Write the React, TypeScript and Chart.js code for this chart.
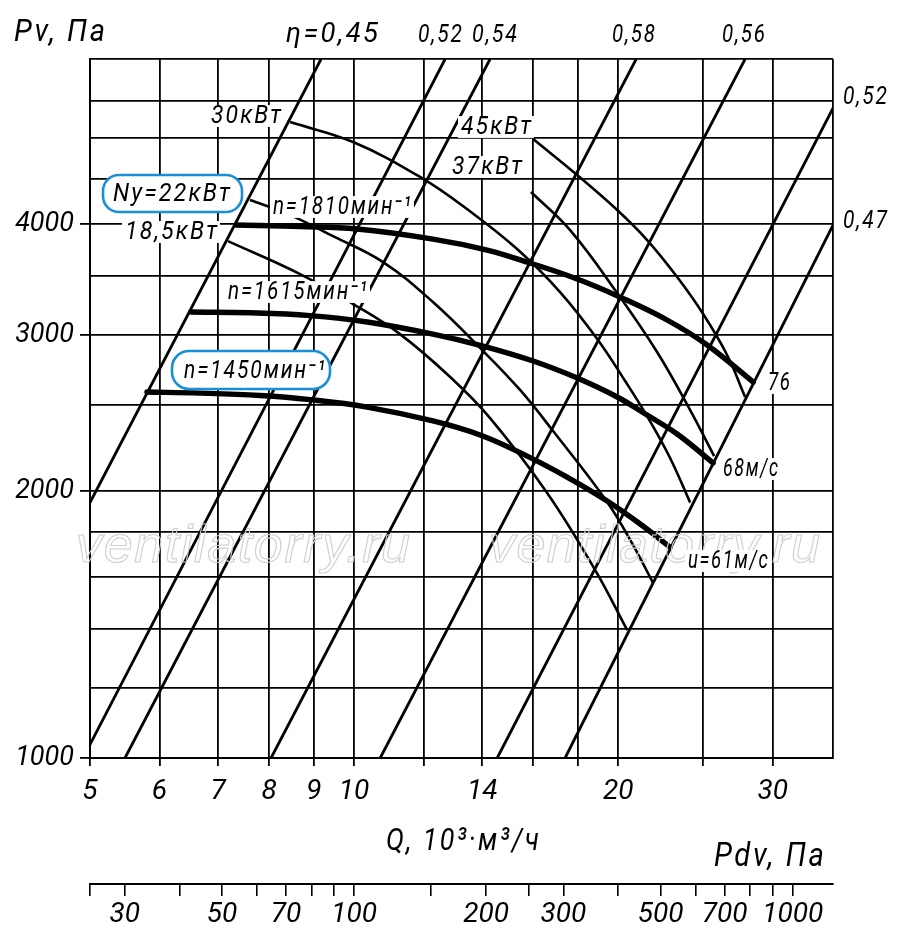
import React, { useEffect, useRef } from "react";
import { Chart, registerables } from "chart.js";

Chart.register(...registerables);

// ---------- axes ----------
const qMin = 5;
const qMax = 35.15;
const pMin = 1000;
const pMax = 6140;
const pdvMin = 25;
const pdvMax = 1236;

const qGridValues = [5, 6, 7, 8, 9, 10, 12, 14, 16, 18, 20, 25, 30, 35.15];
const qTickLabels = [5, 6, 7, 8, 9, 10, 14, 20, 30];
const pGridValues = [1000, 1200, 1400, 1600, 1800, 2000, 2500, 3000, 3500, 4000, 4500, 5000, 5500, 6140];
const pTickLabels = [1000, 2000, 3000, 4000];
const pdvTickValues = [25, 30, 40, 50, 60, 70, 80, 90, 100, 150, 200, 250, 300, 400, 500, 600, 700, 800, 900, 1000];
const pdvTickLabels = [30, 50, 70, 100, 200, 300, 500, 700, 1000];

// ---------- efficiency lines (η) ----------
const etaNames = ["0,45", "0,52", "0,54", "0,58", "0,56", "0,52", "0,47"];
const etaQStart = [5, 4.909, 5.481, 8.042, 10.71, 14.56, 17.4];
const etaPStart = [1941, 1000, 1000, 1000, 1000, 1000, 1000];
const etaQEnd = [9.17, 12.7, 14.29, 20.97, 27.91, 35.15, 35.15];
const etaPEnd = [6140, 6140, 6140, 6140, 6140, 5405, 3990];

// ---------- fan curves (thick) ----------
const n1810Q = [7.336, 8.679, 10.08, 12.3, 14.18, 15.87, 17.96, 20.1, 22.74, 25.26, 28.51];
const n1810P = [3990, 3974, 3949, 3847, 3739, 3615, 3468, 3309, 3118, 2922, 2654];
const n1615Q = [6.518, 7.611, 8.909, 10.35, 12.3, 14.03, 16.0, 17.96, 19.95, 21.58, 23.35, 25.66];
const n1615P = [3183, 3177, 3154, 3102, 3006, 2914, 2803, 2682, 2553, 2436, 2319, 2151];
const n1450Q = [5.807, 6.674, 7.813, 8.909, 10.35, 12.3, 13.92, 15.75, 17.49, 19.43, 21.19, 22.92];
const n1450P = [2586, 2579, 2563, 2536, 2487, 2399, 2313, 2190, 2074, 1949, 1836, 1729];

// ---------- power lines (thin) ----------
const kw185Q = [7.183, 8.679, 9.974, 11.28, 12.87, 14.29, 16.6, 18.83, 20.48];
const kw185P = [3827, 3513, 3250, 3006, 2689, 2417, 1990, 1629, 1394];
const kw22Q = [7.611, 8.409, 9.463, 10.79, 12.3, 14.03, 15.46, 16.86, 19.43, 20.8, 21.92];
const kw22P = [4257, 4105, 3876, 3624, 3267, 2877, 2600, 2337, 1944, 1738, 1575];
const kw30Q = [8.454, 9.974, 11.95, 13.45, 15.34, 17.17, 18.93, 20.37, 21.64, 22.92, 24.16];
const kw30P = [5212, 4949, 4507, 4159, 3749, 3353, 2968, 2661, 2417, 2179, 1941];
const kw37Q = [15.91, 17.63, 19.95, 22.15, 24.16, 25.73];
const kw37P = [4347, 3938, 3344, 2869, 2468, 2190];
const kw45Q = [16.0, 17.96, 19.95, 21.58, 23.35, 25.0, 26.62, 27.91];
const kw45P = [4987, 4542, 4148, 3837, 3486, 3167, 2847, 2553];

const NARROW = "'Liberation Sans Narrow', 'Roboto', sans-serif";
const ITAL = "'Roboto', 'Liberation Sans', sans-serif";
const BLUE = "#1a8fd8";

const zip = (qs: number[], ps: number[]) => qs.map((q, i) => ({ x: q, y: ps[i] }));

type Lbl = { t: string; x: number; y: number; w: number; s: number; bg?: boolean; fam?: string; box?: number[] };

const labels: Lbl[] = [
  { t: "Pv, Па", x: 14, y: 33, w: 91, s: 32 },
  { t: "η=0,45", x: 286, y: 35, w: 92, s: 28 },
  { t: "0,52", x: 418, y: 35, w: 44, s: 26 },
  { t: "0,54", x: 472, y: 35, w: 45, s: 26 },
  { t: "0,58", x: 612, y: 35, w: 43, s: 26 },
  { t: "0,56", x: 722, y: 35, w: 43, s: 26 },
  { t: "0,52", x: 843, y: 97, w: 44, s: 26 },
  { t: "0,47", x: 843, y: 221, w: 44, s: 26 },
  { t: "30кВт", x: 211, y: 116, w: 70, s: 26, bg: true },
  { t: "45кВт", x: 461, y: 127, w: 70, s: 26, bg: true },
  { t: "37кВт", x: 452, y: 167, w: 70, s: 26, bg: true },
  { t: "Ny=22кВт", x: 113, y: 194, w: 117, s: 26, box: [103, 175, 139, 37, 16] },
  { t: "n=1810мин⁻¹", x: 273, y: 207, w: 138, s: 26, bg: true },
  { t: "18,5кВт", x: 125, y: 232, w: 92, s: 26, bg: true },
  { t: "n=1615мин⁻¹", x: 228, y: 292, w: 139, s: 26, bg: true },
  { t: "n=1450мин⁻¹", x: 184, y: 371, w: 141, s: 26, box: [172, 351, 158, 38, 17] },
  { t: "76", x: 768, y: 383, w: 22, s: 26, bg: true },
  { t: "68м/с", x: 723, y: 469, w: 55, s: 26, bg: true },
  { t: "u=61м/с", x: 688, y: 561, w: 80, s: 26, bg: true },
  { t: "Q, 10³·м³/ч", x: 386, y: 842, w: 153, s: 32, fam: NARROW },
  { t: "Pdv, Па", x: 714, y: 858, w: 110, s: 33, fam: NARROW },
];

function roundBox(ctx: CanvasRenderingContext2D, bx: number, by: number, bw: number, bh: number, r: number) {
  ctx.beginPath();
  ctx.moveTo(bx + r, by);
  ctx.lineTo(bx + bw - r, by);
  ctx.arc(bx + bw - r, by + r, r, -Math.PI / 2, 0);
  ctx.lineTo(bx + bw, by + bh - r);
  ctx.arc(bx + bw - r, by + bh - r, r, 0, Math.PI / 2);
  ctx.lineTo(bx + r, by + bh);
  ctx.arc(bx + r, by + bh - r, r, Math.PI / 2, Math.PI);
  ctx.lineTo(bx, by + r);
  ctx.arc(bx + r, by + r, r, Math.PI, Math.PI * 1.5);
  ctx.closePath();
}

function fitted(ctx: CanvasRenderingContext2D, l: Lbl) {
  const fam = l.fam || ITAL;
  ctx.save();
  if (l.box) {
    const [bx, by, bw, bh, r] = l.box;
    roundBox(ctx, bx, by, bw, bh, r);
    ctx.fillStyle = "#fff";
    ctx.fill();
    ctx.lineWidth = 2.6;
    ctx.strokeStyle = BLUE;
    ctx.stroke();
  } else if (l.bg) {
    ctx.fillStyle = "#fff";
    ctx.fillRect(l.x - 3, l.y - l.s * 0.42, l.w + 6, l.s * 0.84);
  }
  ctx.font = `italic ${l.s}px ${fam}`;
  (ctx as any).letterSpacing = "0px";
  const n = Array.from(l.t).length;
  const ls = l.s * 0.09;
  const natural = ctx.measureText(l.t).width + (n - 1) * ls;
  (ctx as any).letterSpacing = `${ls}px`;
  const sx = l.w / natural;
  ctx.textBaseline = "middle";
  ctx.textAlign = "left";
  ctx.translate(l.x, l.y);
  ctx.scale(sx, 1);
  ctx.fillStyle = "#000";
  ctx.fillText(l.t, 0, 0);
  ctx.restore();
}

function watermark(ctx: CanvasRenderingContext2D, x: number, y: number, w: number) {
  const t = "ventilatorry.ru";
  ctx.save();
  ctx.font = `italic 52px 'Liberation Sans', Arial, sans-serif`;
  (ctx as any).letterSpacing = "0px";
  const natural = ctx.measureText(t).width;
  const n = Array.from(t).length;
  (ctx as any).letterSpacing = `${(w - natural) / (n - 1)}px`;
  ctx.textBaseline = "alphabetic";
  ctx.strokeStyle = "#cfcfcf";
  ctx.lineWidth = 1.1;
  ctx.strokeText(t, x, y);
  ctx.restore();
}

const textPlugin = {
  id: "fanText",
  afterDatasetsDraw(chart: any) {
    const ctx = chart.ctx as CanvasRenderingContext2D;
    watermark(ctx, 76, 562, 334);
    watermark(ctx, 489, 562, 331);
  },
  afterDraw(chart: any) {
    const ctx = chart.ctx as CanvasRenderingContext2D;
    labels.forEach((l) => fitted(ctx, l));
  },
};

export default function App() {
  const ref = useRef<HTMLCanvasElement | null>(null);

  useEffect(() => {
    if (!ref.current) return;
    const thin = { borderColor: "#000", borderWidth: 2.6, pointRadius: 0, fill: false };
    const datasets: any[] = [];
    etaNames.forEach((name, i) => {
      datasets.push({
        label: "η=" + name,
        data: [
          { x: etaQStart[i], y: etaPStart[i] },
          { x: etaQEnd[i], y: etaPEnd[i] },
        ],
        ...thin,
        borderWidth: 2.8,
        tension: 0,
      });
    });
    const power: [string, number[], number[]][] = [
      ["18,5кВт", kw185Q, kw185P],
      ["22кВт", kw22Q, kw22P],
      ["30кВт", kw30Q, kw30P],
      ["37кВт", kw37Q, kw37P],
      ["45кВт", kw45Q, kw45P],
    ];
    power.forEach(([name, qs, ps]) => {
      datasets.push({ label: name, data: zip(qs, ps), ...thin, tension: 0.4 });
    });
    const speeds: [string, number[], number[]][] = [
      ["n=1810", n1810Q, n1810P],
      ["n=1615", n1615Q, n1615P],
      ["n=1450", n1450Q, n1450P],
    ];
    speeds.forEach(([name, qs, ps]) => {
      datasets.push({
        label: name,
        data: zip(qs, ps),
        ...thin,
        borderWidth: 5.4,
        borderCapStyle: "round",
        tension: 0.4,
      });
    });

    const chart = new Chart(ref.current, {
      type: "line",
      data: { datasets },
      plugins: [textPlugin],
      options: {
        animation: false,
        responsive: false,
        events: [],
        devicePixelRatio: 1,
        layout: { padding: { left: 0, right: 67, top: 59, bottom: 0 } },
        plugins: {
          legend: { display: false },
          tooltip: { enabled: false },
          title: { display: false },
        },
        scales: {
          x: {
            type: "logarithmic",
            position: "bottom",
            min: qMin,
            max: qMax,
            weight: 0,
            afterBuildTicks: (s: any) => {
              s.ticks = qGridValues.map((v) => ({ value: v }));
            },
            afterFit: (s: any) => {
              s.height = 126;
            },
            ticks: {
              autoSkip: false,
              maxRotation: 0,
              minRotation: 0,
              padding: 9,
              color: "#000",
              font: { family: NARROW, size: 28, style: "italic" },
              callback: (v: any) => (qTickLabels.includes(Number(v)) ? String(v) : ""),
            },
            grid: {
              color: "#000",
              lineWidth: 1.8,
              tickLength: 8,
              tickWidth: 1.8,
              tickColor: (c: any) => (c.tick && c.tick.value < qMax - 0.01 ? "#000" : "rgba(0,0,0,0)"),
            },
            border: { display: true, color: "#000", width: 2 },
          },
          x2: {
            type: "logarithmic",
            position: "bottom",
            min: pdvMin,
            max: pdvMax,
            weight: 1,
            afterBuildTicks: (s: any) => {
              s.ticks = pdvTickValues.map((v) => ({ value: v }));
            },
            afterFit: (s: any) => {
              s.height = 46;
            },
            ticks: {
              autoSkip: false,
              maxRotation: 0,
              minRotation: 0,
              padding: 2,
              color: "#000",
              font: { family: NARROW, size: 28, style: "italic" },
              callback: (v: any) => (pdvTickLabels.includes(Number(v)) ? String(v) : ""),
            },
            grid: {
              drawOnChartArea: false,
              drawTicks: true,
              tickLength: 12,
              color: "#000",
              lineWidth: 1.6,
            },
            border: { display: true, color: "#000", width: 2 },
          },
          y: {
            type: "logarithmic",
            position: "left",
            min: pMin,
            max: pMax,
            afterBuildTicks: (s: any) => {
              s.ticks = pGridValues.map((v) => ({ value: v }));
            },
            afterFit: (s: any) => {
              s.width = 90;
            },
            ticks: {
              autoSkip: false,
              padding: 6,
              color: "#000",
              font: { family: ITAL, size: 27, style: "italic" },
              callback: (v: any) => (pTickLabels.includes(Number(v)) ? String(v) : ""),
            },
            grid: {
              color: "#000",
              lineWidth: 1.8,
              tickLength: 10,
              tickWidth: 1.8,
              tickColor: (c: any) => (c.tick && pTickLabels.includes(c.tick.value) ? "#000" : "rgba(0,0,0,0)"),
            },
            border: { display: true, color: "#000", width: 2 },
          },
        },
      } as any,
    });
    return () => chart.destroy();
  }, []);

  return (
    <div style={{ position: "fixed", left: 0, top: 0, width: 900, height: 930, background: "#fff" }}>
      <canvas ref={ref} width={900} height={930} style={{ display: "block", width: 900, height: 930 }} />
    </div>
  );
}
